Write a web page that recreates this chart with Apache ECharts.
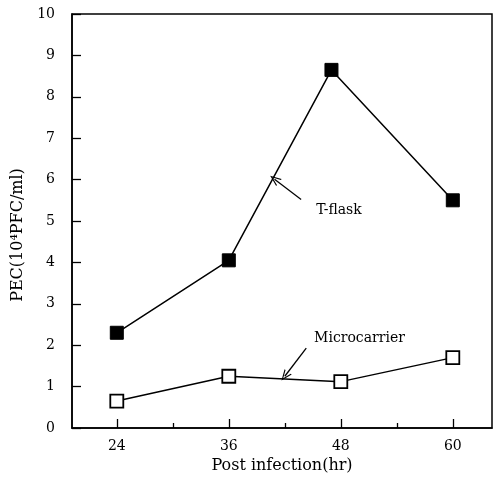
<!DOCTYPE html>
<html>
<head>
<meta charset="utf-8">
<script src="https://cdn.jsdelivr.net/npm/echarts@6/dist/echarts.min.js"></script>
<style>html,body{margin:0;padding:0;background:#fff;}#c{width:497px;height:481px;}</style>
</head>
<body>
<div id="c"></div>
<script>
// Data
const tflaskX = [24, 36, 47, 60];
const tflaskY = [2.3, 4.05, 8.65, 5.5];
const microX = [24, 36, 48, 60];
const microY = [0.65, 1.25, 1.12, 1.7];
const xTickLabels = [24, 36, 48, 60];
const xMinorTicks = [30, 42, 54];
const yTicks = [0, 1, 2, 3, 4, 5, 6, 7, 8, 9, 10];

// Annotation anchors (data space)
const tflaskNote = {text: 'T-flask', at: [47.8, 5.25], arrowFrom: [43.75, 5.52], arrowTo: [40.9, 6.01]};
const microNote = {text: 'Microcarrier', at: [50.0, 2.17], arrowFrom: [44.3, 1.93], arrowTo: [42.0, 1.25]};

const FONT = 'DejaVu Serif';
const chart = echarts.init(document.getElementById('c'));
const pair = (xs, ys) => xs.map((x, i) => [x, ys[i]]);
const chevron = 'path://M5,0 L10,10 L8.6,10 L5,2.6 L1.4,10 L0,10 Z';

function noteSeries(n) {
  return {
    type: 'scatter', data: [], silent: true,
    markLine: {
      silent: true, animation: false,
      symbol: ['none', chevron], symbolSize: [9, 11],
      lineStyle: {color: '#000', width: 1.3, type: 'solid'},
      label: {show: false},
      data: [[{coord: n.arrowFrom}, {coord: n.arrowTo}]]
    },
    markPoint: {
      silent: true, animation: false,
      symbol: 'rect', symbolSize: 1, itemStyle: {color: 'rgba(0,0,0,0)'},
      label: {show: true, formatter: n.text, color: '#000', fontFamily: FONT, fontSize: 14, position: 'inside'},
      data: [{coord: n.at}]
    }
  };
}

chart.setOption({
  animation: false,
  backgroundColor: '#fff',
  grid: {left: 72, right: 5, top: 14, bottom: 53, show: true, borderColor: '#000', borderWidth: 1.5, backgroundColor: 'transparent'},
  xAxis: [{
    type: 'value', min: 19.2, max: 64.2,
    name: 'Post infection(hr)', nameLocation: 'middle', nameGap: 30,
    nameTextStyle: {fontFamily: FONT, fontSize: 16, color: '#000'},
    axisLine: {show: true, lineStyle: {color: '#000', width: 1.5}},
    axisTick: {show: true, inside: true, length: 9, customValues: xTickLabels, lineStyle: {color: '#000', width: 1.3}},
    axisLabel: {customValues: xTickLabels, fontFamily: FONT, fontSize: 14, color: '#000', margin: 11},
    splitLine: {show: false}
  }, {
    type: 'value', min: 19.2, max: 64.2, position: 'bottom',
    axisLine: {show: false},
    axisTick: {show: true, inside: true, length: 5, customValues: xMinorTicks, lineStyle: {color: '#000', width: 1.3}},
    axisLabel: {show: false},
    splitLine: {show: false}
  }],
  yAxis: {
    type: 'value', min: 0, max: 10, interval: 1,
    name: 'PEC(10⁴PFC/ml)', nameLocation: 'middle', nameGap: 45,
    nameTextStyle: {fontFamily: FONT, fontSize: 16, color: '#000', padding: [0, 28, 0, 0]},
    axisLine: {show: true, lineStyle: {color: '#000', width: 1.5}},
    axisTick: {show: true, inside: true, length: 9, lineStyle: {color: '#000', width: 1.3}},
    axisLabel: {fontFamily: FONT, fontSize: 14, color: '#000', margin: 17,
      formatter: v => yTicks.includes(v) ? String(v) : ''},
    splitLine: {show: false}
  },
  series: [
    {
      type: 'line', data: pair(tflaskX, tflaskY),
      symbol: 'rect', symbolSize: 13,
      lineStyle: {color: '#000', width: 1.5},
      itemStyle: {color: '#000', borderColor: '#000', borderWidth: 1}
    },
    {
      type: 'line', data: pair(microX, microY),
      symbol: 'rect', symbolSize: 13,
      lineStyle: {color: '#000', width: 1.5},
      itemStyle: {color: '#fff', borderColor: '#000', borderWidth: 1.8}
    },
    noteSeries(tflaskNote),
    noteSeries(microNote)
  ]
});
</script>
</body>
</html>
